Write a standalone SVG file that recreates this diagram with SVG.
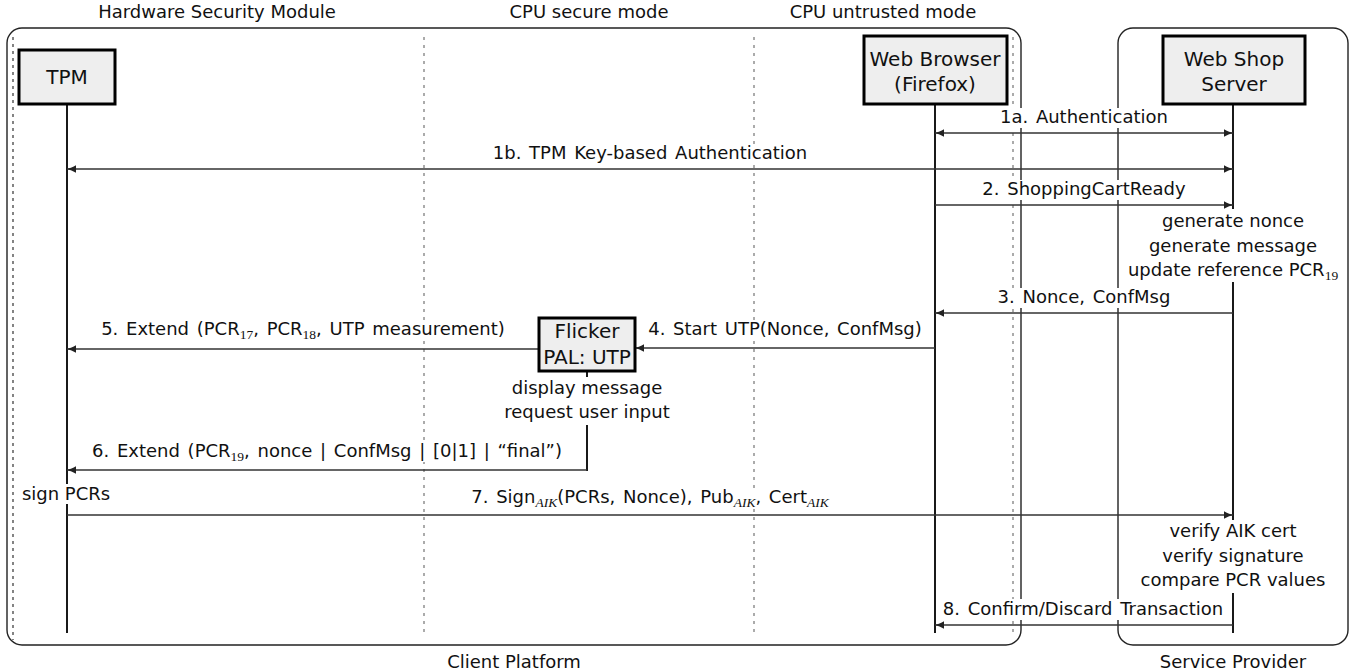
<svg xmlns="http://www.w3.org/2000/svg" width="1355" height="671" viewBox="0 0 1355 671">
<defs>
<style>
text{font-family:"DejaVu Sans","Liberation Sans",sans-serif;fill:#111}
.lbl{font-size:18px;text-anchor:middle}
.ml{word-spacing:2px}
.node text{font-size:20px;text-anchor:middle}
.box{fill:#eeeeee;stroke:#000;stroke-width:3}
.life{stroke:#000;stroke-width:1.8;fill:none}
.frame{fill:none;stroke:#222;stroke-width:1.4}
.lane{stroke:#888;stroke-width:1.4;stroke-dasharray:3 5;fill:none}
.lane0{stroke:#333;stroke-width:1.2;stroke-dasharray:3 4;fill:none}
.msg{stroke:#333;stroke-width:1.3;fill:none;marker-end:url(#ah)}
.bi{marker-start:url(#ah)}
.bg{fill:#fff}
.sub{font-family:"Liberation Serif","DejaVu Serif",serif;font-size:13.5px}
.subi{font-family:"Liberation Serif","DejaVu Serif",serif;font-size:13.5px;font-style:italic}
</style>
<marker id="ah" viewBox="-10 -5 11 10" refX="0" refY="0" markerWidth="11" markerHeight="10" markerUnits="userSpaceOnUse" orient="auto-start-reverse">
<path d="M0,0 C-3,-0.8 -6,-2.2 -9,-3.8 L-9,3.8 C-6,2.2 -3,0.8 0,0 Z" fill="#222"/>
</marker>
</defs>

<g id="frames">
<rect class="frame" x="7" y="28" width="1014" height="617" rx="15"/>
<rect class="frame" x="1118" y="28" width="230" height="617" rx="15"/>
<text class="lbl" x="217" y="18">Hardware Security Module</text>
<text class="lbl" x="589" y="18">CPU secure mode</text>
<text class="lbl" x="883" y="18">CPU untrusted mode</text>
<text class="lbl" x="514" y="668">Client Platform</text>
<text class="lbl" x="1233" y="668">Service Provider</text>
</g>

<g id="lanes">
<line class="lane0" x1="13" y1="37" x2="13" y2="640"/>
<line class="lane" x1="424" y1="37" x2="424" y2="633"/>
<line class="lane" x1="754" y1="37" x2="754" y2="633"/>
<line class="lane" x1="1013" y1="37" x2="1013" y2="633"/>
</g>

<g id="lifelines">
<line class="life" x1="67" y1="104" x2="67" y2="633"/>
<line class="life" x1="935" y1="104" x2="935" y2="633"/>
<line class="life" x1="1233" y1="104" x2="1233" y2="633"/>
<line class="life" x1="587" y1="370" x2="587" y2="471"/>
</g>

<g id="notes">
<rect class="bg" x="1128" y="209" width="210" height="73"/>
<text class="lbl" x="1233" y="227">generate nonce</text>
<text class="lbl" x="1233" y="252">generate message</text>
<text class="lbl" x="1233" y="276">update reference PCR<tspan class="sub" dy="4">19</tspan></text>
<rect class="bg" x="497" y="377" width="180" height="48"/>
<text class="lbl" x="587" y="394">display message</text>
<text class="lbl" x="587" y="418">request user input</text>
<rect class="bg" x="20" y="484" width="94" height="20"/>
<text class="lbl" x="66" y="500">sign PCRs</text>
<rect class="bg" x="1138" y="520" width="190" height="73"/>
<text class="lbl" x="1233" y="537">verify AIK cert</text>
<text class="lbl" x="1233" y="562">verify signature</text>
<text class="lbl" x="1233" y="586">compare PCR values</text>
</g>

<g id="connectors">
<line class="msg bi" x1="935" y1="133" x2="1233" y2="133"/>
<line class="msg bi" x1="67" y1="169" x2="1233" y2="169"/>
<line class="msg" x1="935" y1="205" x2="1233" y2="205"/>
<line class="msg" x1="1233" y1="313" x2="935" y2="313"/>
<line class="msg" x1="935" y1="348" x2="635" y2="348"/>
<line class="msg" x1="539" y1="349" x2="67" y2="349"/>
<line class="msg" x1="587" y1="470" x2="67" y2="470"/>
<line class="msg" x1="67" y1="515" x2="1233" y2="515"/>
<line class="msg" x1="1233" y1="625" x2="935" y2="625"/>
</g>

<g id="labels">
<rect class="bg" x="996" y="108" width="176" height="20"/>
<text class="lbl ml" x="1084" y="123">1a. Authentication</text>
<rect class="bg" x="484" y="144" width="332" height="20"/>
<text class="lbl ml" x="650" y="159">1b. TPM Key-based Authentication</text>
<rect class="bg" x="978" y="180" width="212" height="20"/>
<text class="lbl ml" x="1084" y="195">2. ShoppingCartReady</text>
<rect class="bg" x="994" y="288" width="180" height="20"/>
<text class="lbl ml" x="1084" y="303">3. Nonce, ConfMsg</text>
<rect class="bg" x="644" y="320" width="282" height="20"/>
<text class="lbl ml" x="785" y="335">4. Start UTP(Nonce, ConfMsg)</text>
<rect class="bg" x="88" y="320" width="430" height="20"/>
<text class="lbl ml" x="303" y="335">5. Extend (PCR<tspan class="sub" dy="4">17</tspan><tspan dy="-4">, PCR</tspan><tspan class="sub" dy="4">18</tspan><tspan dy="-4">, UTP measurement)</tspan></text>
<rect class="bg" x="88" y="442" width="478" height="20"/>
<text class="lbl ml" x="327" y="457">6. Extend (PCR<tspan class="sub" dy="4">19</tspan><tspan dy="-4">, nonce | ConfMsg | [0|1] | “final”)</tspan></text>
<rect class="bg" x="436" y="488" width="428" height="20"/>
<text class="lbl ml" x="650" y="503">7. Sign<tspan class="subi" dy="4">AIK</tspan><tspan dy="-4">(PCRs, Nonce), Pub</tspan><tspan class="subi" dy="4">AIK</tspan><tspan dy="-4">, Cert</tspan><tspan class="subi" dy="4">AIK</tspan></text>
<rect class="bg" x="936" y="599" width="294" height="21"/>
<text class="lbl ml" x="1083" y="615">8. Confirm/Discard Transaction</text>
</g>

<g id="node-tpm" class="node">
<rect class="box" x="19" y="50" width="96" height="54"/>
<text x="67" y="84">TPM</text>
</g>
<g id="node-browser" class="node">
<rect class="box" x="864" y="36" width="143" height="68"/>
<text x="935" y="66">Web Browser</text>
<text x="935" y="91">(Firefox)</text>
</g>
<g id="node-server" class="node">
<rect class="box" x="1163" y="36" width="142" height="68"/>
<text x="1234" y="66">Web Shop</text>
<text x="1234" y="91">Server</text>
</g>
<g id="node-flicker" class="node">
<rect class="box" x="539" y="318" width="96" height="53"/>
<text x="587" y="338">Flicker</text>
<text x="587" y="364">PAL: UTP</text>
</g>
</svg>
